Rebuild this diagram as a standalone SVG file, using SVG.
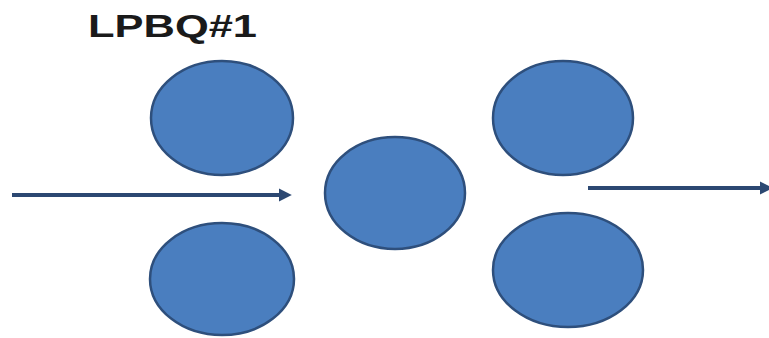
<svg xmlns="http://www.w3.org/2000/svg" width="769" height="338" viewBox="0 0 769 338">
<style>
.n{fill:#4a7ebf;stroke:#2e4f7c;stroke-width:2.5}
.c{stroke:#2c4872;stroke-width:4;fill:none}
.t{font-family:"Liberation Sans",Arial,sans-serif;font-weight:bold;font-size:31px;fill:#1a1a1a}
</style>
<defs>
<marker id="ah" markerWidth="4" markerHeight="4" refX="2" refY="2" orient="auto" markerUnits="strokeWidth" viewBox="0 0 4 4">
<path d="M0,0.4 L3.2,2 L0,3.6 Z" fill="#2c4872"/>
</marker>
</defs>
<rect width="769" height="338" fill="#ffffff"/>
<text class="t" x="88" y="37" textLength="169" lengthAdjust="spacingAndGlyphs">LPBQ#1</text>
<g id="node-top-left"><ellipse class="n" cx="222" cy="118" rx="71" ry="57"/></g>
<g id="node-bottom-left"><ellipse class="n" cx="222" cy="279" rx="72" ry="56"/></g>
<g id="node-center"><ellipse class="n" cx="395" cy="193" rx="70" ry="56"/></g>
<g id="node-top-right"><ellipse class="n" cx="563" cy="118" rx="70" ry="57"/></g>
<g id="node-bottom-right"><ellipse class="n" cx="568" cy="270" rx="75" ry="57"/></g>
<g id="connectors">
<line class="c" x1="12" y1="195" x2="287" y2="195" marker-end="url(#ah)"/>
<line class="c" x1="588" y1="188" x2="768" y2="188" marker-end="url(#ah)"/>
</g>
</svg>
